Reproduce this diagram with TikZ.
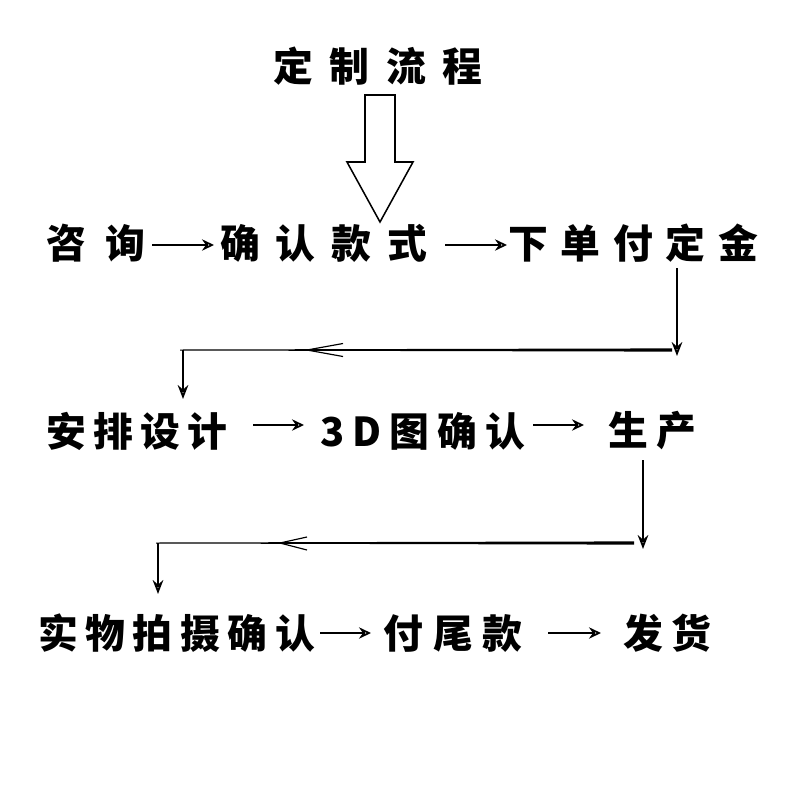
\documentclass[tikz,border=0pt]{standalone}
\usepackage{fontspec}
\usetikzlibrary{arrows.meta}
\newfontfamily\cjk{Noto Sans CJK SC}
\newcommand\cjkbig{\cjk\bfseries\fontsize{34}{40}\selectfont}

\begin{document}
\begin{tikzpicture}[x=0.03cm,y=-0.03cm,
  lbl/.style={font=\cjkbig\addfontfeature{LetterSpace=#1},anchor=west,inner sep=0pt},
  flow/.style={line width=1.5pt,-{Stealth[open,length=0.36cm,width=0.34cm,inset=0.12cm]}},
  drop/.style={line width=1.6pt,-{Stealth[open,length=0.42cm,width=0.32cm,inset=0.14cm]}},
  chev/.style={line width=1pt,line join=miter}]
\useasboundingbox (0,0) rectangle (800,800);
% title and big arrow
\node[lbl=42] (title) at (273,66) {定制流程};
\draw[line width=1.3pt,fill=white] (365,95) -- (395,95) -- (395,162) -- (413,162)
   -- (380,222) -- (347,162) -- (365,162) -- cycle;
% first row
\node[lbl=50] (zixun) at (46,243) {咨询};
\node[lbl=40] (queren) at (220,243) {确认款式};
\node[lbl=32] (xiadan) at (508,243) {下单付定金};
% second row
\node[lbl=18] (sheji) at (46,431) {安排设计};
\node[lbl=20] (tu) at (320,431) {3D图确认};
\node[lbl=22] (shengchan) at (608,431) {生产};
% third row
\node[lbl=19] (paishe) at (38,633) {实物拍摄确认};
\node[lbl=25] (weikuan) at (383,633) {付尾款};
\node[lbl=22] (fahuo) at (623,633) {发货};
% arrow ends
\coordinate (r1a) at (152,245); \coordinate (r1b) at (214,245);
\coordinate (r1c) at (445,245); \coordinate (r1d) at (507,245);
\coordinate (r2a) at (253,425); \coordinate (r2b) at (304,425);
\coordinate (r2c) at (533,425); \coordinate (r2d) at (584,425);
\coordinate (r3a) at (320,633); \coordinate (r3b) at (371,633);
\coordinate (r3c) at (548,633); \coordinate (r3d) at (601,633);
\foreach \a/\b in {r1a/r1b,r1c/r1d,r2a/r2b,r2c/r2d,r3a/r3b,r3c/r3d} {
   \draw[flow] (\a) -- (\b);
}
% return from first row
\coordinate (t1) at (677,268); \coordinate (b1) at (677,356);
\coordinate (t2) at (183,350); \coordinate (b2) at (183,399);
\draw[drop] (t1) -- (b1);
\fill (672,348.4) -- (672,351.6) -- (180,350.5) -- (180,349.5) -- cycle;
\draw[chev] (343,343.5) -- (307,350) -- (343,356.5);
\draw[drop] (t2) -- (b2);
% return from second row
\coordinate (t3) at (643,460); \coordinate (b3) at (643,549);
\coordinate (t4) at (158,543); \coordinate (b4) at (158,594);
\draw[drop] (t3) -- (b3);
\fill (634,541.4) -- (634,544.6) -- (156,543.5) -- (156,542.5) -- cycle;
\draw[chev] (307,537) -- (280,543) -- (307,550);
\draw[drop] (t4) -- (b4);
\end{tikzpicture}
\end{document}
